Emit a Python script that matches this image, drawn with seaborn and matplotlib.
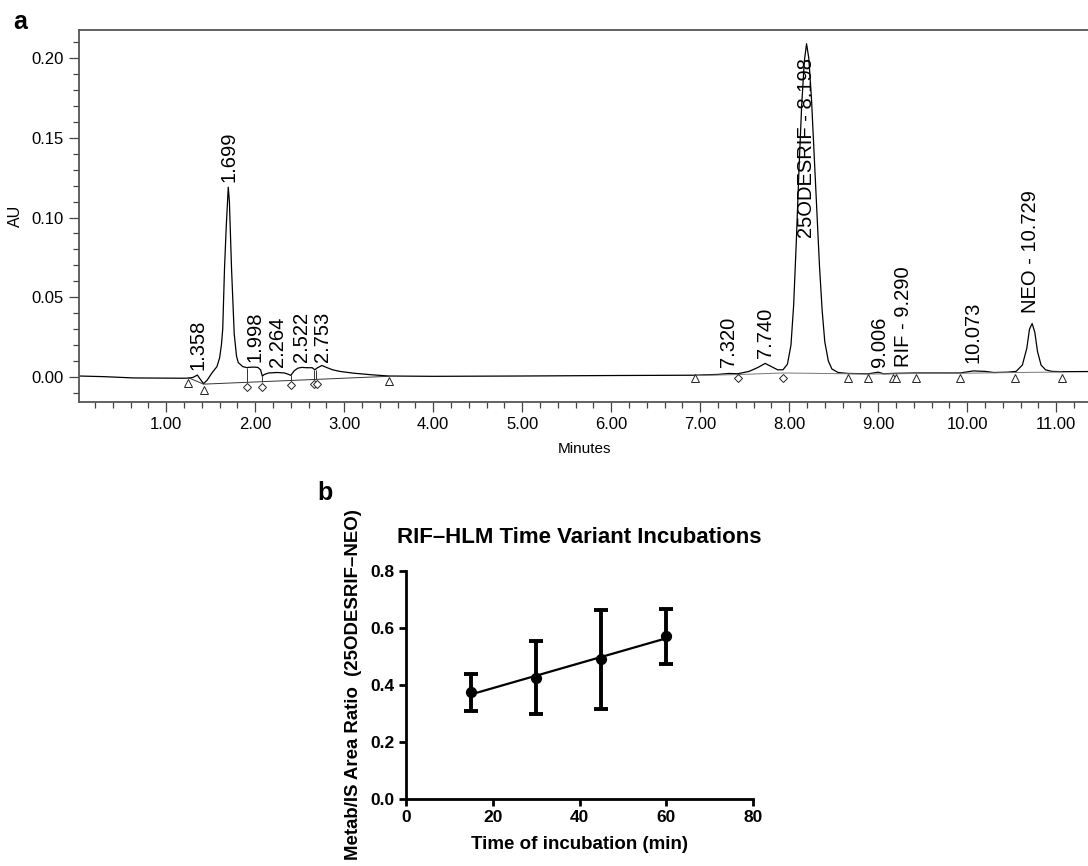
import numpy as np
import pandas as pd
import matplotlib
matplotlib.use('Agg')
import matplotlib.pyplot as plt
import seaborn as sns

# ---- panel a: chromatogram trace ----
trace_t = [0.02, 0.30, 0.63, 0.90, 1.20, 1.25, 1.30, 1.35, 1.39, 1.42, 1.46, 1.52, 1.57,
           1.60, 1.62, 1.635, 1.655, 1.675, 1.689, 1.697, 1.71, 1.734, 1.764, 1.79, 1.81,
           1.86, 1.91, 1.92, 1.98, 2.03, 2.06, 2.08, 2.10, 2.15, 2.25, 2.33, 2.38, 2.40,
           2.44, 2.48, 2.52, 2.58, 2.64, 2.67, 2.70, 2.75, 2.80, 2.87, 2.95, 3.10, 3.30,
           3.50, 4.00, 5.00, 6.00, 6.94, 7.20, 7.32, 7.42, 7.55, 7.65, 7.73, 7.80, 7.87,
           7.93, 7.98, 8.02, 8.05, 8.08, 8.11, 8.14, 8.17, 8.195, 8.22, 8.25, 8.28, 8.31,
           8.34, 8.37, 8.40, 8.44, 8.48, 8.55, 8.66, 8.89, 9.00, 9.06, 9.20, 9.42, 9.92,
           10.00, 10.07, 10.20, 10.30, 10.45, 10.55, 10.62, 10.67, 10.70, 10.73, 10.76,
           10.79, 10.83, 10.88, 10.95, 11.07, 11.38]
trace_au = [0.0006, 0.0002, -0.0006, -0.0007, -0.0008, -0.0007, -0.0003, 0.0012, -0.002,
            -0.0042, -0.002, 0.003, 0.0065, 0.012, 0.020, 0.030, 0.068, 0.095, 0.110, 0.119,
            0.110, 0.068, 0.027, 0.013, 0.009, 0.0065, 0.0058, 0.0060, 0.0062, 0.0060,
            0.0045, 0.0005, 0.0015, 0.0025, 0.0028, 0.0025, 0.0015, 0.0010, 0.0040, 0.0055,
            0.0060, 0.0058, 0.0058, 0.0045, 0.0058, 0.0072, 0.0060, 0.0045, 0.0035, 0.0024,
            0.0014, 0.0006, 0.0004, 0.0006, 0.0009, 0.0011, 0.0016, 0.0022, 0.0020, 0.0035,
            0.0060, 0.0085, 0.0065, 0.0045, 0.0045, 0.0080, 0.020, 0.045, 0.085, 0.130,
            0.170, 0.198, 0.209, 0.200, 0.175, 0.140, 0.105, 0.070, 0.042, 0.022, 0.010,
            0.005, 0.0028, 0.0022, 0.0020, 0.0030, 0.0020, 0.0023, 0.0025, 0.0025, 0.0032,
            0.0038, 0.0035, 0.0028, 0.0030, 0.0035, 0.0075, 0.018, 0.030, 0.0335, 0.028,
            0.016, 0.0075, 0.0045, 0.0035, 0.0033, 0.0034]

# integration baselines and drop lines
base_left_t = [1.25, 1.42, 3.50]
base_left_au = [-0.0005, -0.0045, 0.0004]
base_right_t = [6.94, 7.42, 7.93, 8.66, 8.89, 9.17, 9.20, 9.42, 9.92, 10.54, 11.07]
base_right_au = [0.0009, 0.0015, 0.0025, 0.0020, 0.0018, 0.0020, 0.0020, 0.0022, 0.0023, 0.0028, 0.0031]
drop_t = [1.91, 2.08, 2.40, 2.665, 2.685]
drop_bottom = [-0.0033, -0.0029, -0.0022, -0.0016, -0.0015]
drop_top = [0.0058, 0.0005, 0.0010, 0.0045, 0.0045]

# peak start/end markers
tri_t = [1.25, 1.43, 3.50, 6.94, 8.66, 8.89, 9.17, 9.20, 9.42, 9.92, 10.54, 11.07]
tri_au = [-0.0035, -0.0082, -0.0025, -0.0008, -0.0006, -0.0006, -0.0006, -0.0006,
          -0.0006, -0.0006, -0.0006, -0.0005]
dia_t = [1.91, 2.08, 2.40, 2.66, 2.69, 7.42, 7.93]
dia_au = [-0.0065, -0.0060, -0.0050, -0.0047, -0.0047, -0.0004, -0.0004]

# peak labels
peak_names = ['1.358', '1.699', '1.998', '2.264', '2.522', '2.753', '7.320', '7.740',
              '25ODESRIF - 8.198', '9.006', 'RIF - 9.290', '10.073', 'NEO - 10.729']
peak_t = [1.355, 1.70, 2.00, 2.25, 2.52, 2.76, 7.32, 7.73, 8.19, 9.01, 9.28, 10.06, 10.71]
peak_au = [0.0044, 0.1225, 0.0096, 0.0065, 0.0096, 0.0096, 0.0065, 0.012, 0.087,
           0.0065, 0.0065, 0.0088, 0.040]

# ---- panel b: time course ----
inc_time = [15, 30, 45, 60]
area_ratio = [0.374, 0.426, 0.491, 0.571]
err_low = [0.309, 0.299, 0.315, 0.473]
err_high = [0.439, 0.553, 0.664, 0.667]

sns.set_theme(style='ticks')
plt.rcParams['font.family'] = ['Liberation Sans', 'DejaVu Sans']
plt.rcParams['text.color'] = 'black'
plt.rcParams['axes.labelcolor'] = 'black'
plt.rcParams['xtick.labelcolor'] = 'black'
plt.rcParams['ytick.labelcolor'] = 'black'

fig = plt.figure(figsize=(10.88, 8.66), dpi=100)

# ================= panel a =================
ax1 = fig.add_axes([79 / 1088, 1 - 402 / 866, (1090 - 79) / 1088, 372 / 866])
df_trace = pd.DataFrame({'t': trace_t, 'au': trace_au})
sns.lineplot(data=df_trace, x='t', y='au', ax=ax1, color='black', linewidth=0.9,
             estimator=None, sort=False)
ax1.plot(base_left_t, base_left_au, color='#333333', linewidth=0.7)
ax1.plot(base_right_t, base_right_au, color='#777777', linewidth=0.7)
ax1.vlines(drop_t, drop_bottom, drop_top, color='#333333', linewidth=0.7)
ax1.plot(tri_t, tri_au, linestyle='none', marker='^', markersize=6, mfc='white',
         mec='#222222', mew=0.7)
ax1.plot(dia_t, dia_au, linestyle='none', marker='D', markersize=4.5, mfc='white',
         mec='#222222', mew=0.7)
for name, t, au in zip(peak_names, peak_t, peak_au):
    ax1.text(t, au, name, rotation=90, ha='center', va='bottom', fontsize=14.5)

ax1.set_xlim(0.02, 11.38)
ax1.set_ylim(-0.0157, 0.2176)
ax1.set_xticks(np.arange(1, 12))
ax1.set_xticklabels([f'{v:.2f}' for v in np.arange(1, 12)])
ax1.set_xticks(np.arange(0.2, 11.3, 0.2), minor=True)
ax1.set_yticks(np.arange(0, 0.21, 0.05))
ax1.set_yticklabels([f'{v:.2f}' for v in np.arange(0, 0.21, 0.05)])
ax1.set_yticks(np.arange(-0.01, 0.215, 0.01), minor=True)
ax1.tick_params(axis='both', which='major', labelsize=12, length=7, width=0.9,
                color='#444444', direction='out', pad=4)
ax1.tick_params(axis='both', which='minor', length=4, width=0.9, color='#444444',
                direction='out')
for sp in ax1.spines.values():
    sp.set_color('#555555')
    sp.set_linewidth(1.3)
ax1.set_xlabel('Minutes', fontsize=11, labelpad=7)
ax1.set_ylabel('AU', fontsize=11.5, labelpad=6)
fig.text(13 / 1088, 1 - 22 / 866, 'a', fontsize=18, fontweight='bold', va='center')

# ================= panel b =================
ax2 = fig.add_axes([406 / 1088, 1 - 799 / 866, 347 / 1088, 228 / 866])
df_b = pd.DataFrame({'time': inc_time, 'ratio': area_ratio})
sns.regplot(data=df_b, x='time', y='ratio', ax=ax2, ci=None, color='black',
            scatter_kws={'s': 50, 'zorder': 4, 'alpha': 1}, line_kws={'linewidth': 1.6})
ax2.errorbar(inc_time, area_ratio,
             yerr=[np.subtract(area_ratio, err_low), np.subtract(err_high, area_ratio)],
             fmt='none', ecolor='black', elinewidth=2.8, capsize=5, capthick=2.8, zorder=3)
ax2.set_xlim(0, 80)
ax2.set_ylim(0, 0.8)
ax2.set_xticks([0, 20, 40, 60, 80])
ax2.set_yticks([0.0, 0.2, 0.4, 0.6, 0.8])
ax2.set_yticklabels(['0.0', '0.2', '0.4', '0.6', '0.8'])
sns.despine(ax=ax2)
for sp in ['left', 'bottom']:
    ax2.spines[sp].set_linewidth(2.0)
    ax2.spines[sp].set_color('black')
ax2.tick_params(axis='both', labelsize=12.5, length=5, width=2.0, color='black', pad=3)
for lab in ax2.get_xticklabels() + ax2.get_yticklabels():
    lab.set_fontweight('bold')
ax2.set_xlabel('Time of incubation (min)', fontsize=13.5, fontweight='bold', labelpad=8)
ax2.set_ylabel('Metab/IS Area Ratio  (25ODESRIF\u2013NEO)', fontsize=13.4, fontweight='bold',
               labelpad=6)
ax2.set_title('RIF\u2013HLM Time Variant Incubations', fontsize=16, fontweight='bold', pad=20)
fig.text(317 / 1088, 1 - 493 / 866, 'b', fontsize=18, fontweight='bold', va='center')

fig.savefig('out.png', dpi=100)
